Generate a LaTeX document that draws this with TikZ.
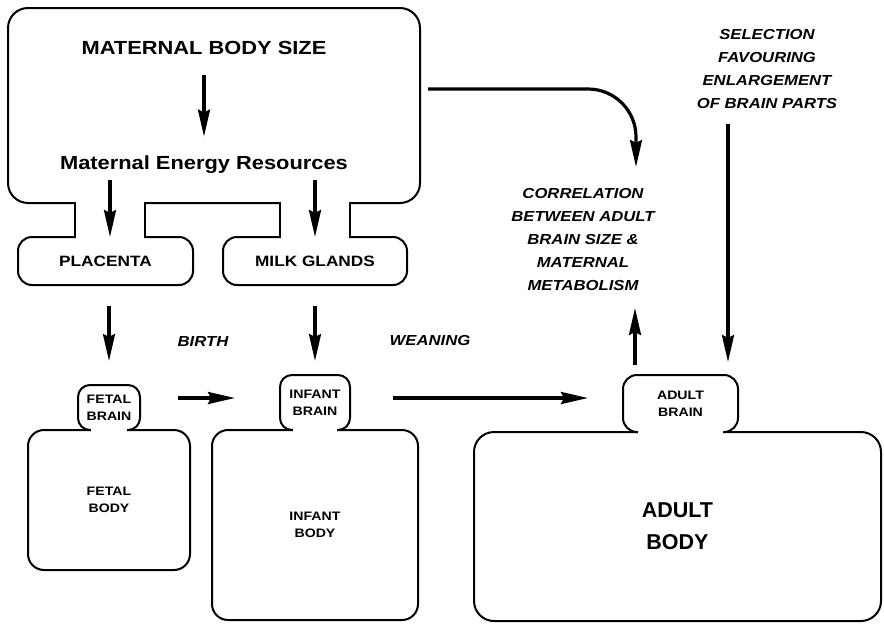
\documentclass[tikz,border=0pt]{standalone}
\usepackage{fontspec}
\setmainfont{Liberation Sans}
\newfontfamily\widesans[FakeStretch=1.15]{Liberation Sans}
\usepackage{tikz}
\usetikzlibrary{arrows.meta}

\begin{document}
\begin{tikzpicture}[x=1pt,y=-1pt,
    box/.style={draw,line width=2pt,rounded corners=14pt,inner sep=0pt,align=center,
        font=\widesans\bfseries\fontsize{12.3}{17}\selectfont},
    big/.style={font=\widesans\bfseries\fontsize{19}{23}\selectfont},
    lab/.style={align=center,font=\widesans\bfseries\itshape\fontsize{14.5}{23}\selectfont},
    arr/.style={line width=3.2pt,-{Stealth[length=27pt,width=12pt,inset=3pt]}}]
    \useasboundingbox (0,0) rectangle (884,624);

    % maternal body with its two outlets
    \node[box,rounded corners=20pt,minimum width=412pt,minimum height=195pt] (mbox) at (214,105.5) {};
    \node[box,font=\widesans\bfseries\fontsize{15}{18}\selectfont,minimum width=175pt,minimum height=48pt] (plac) at (105.5,261) {PLACENTA};
    \node[box,font=\widesans\bfseries\fontsize{15}{18}\selectfont,minimum width=184pt,minimum height=48pt] (milk) at (315,261) {MILK GLANDS};
    \fill[white] (76,199) rectangle (144,241);
    \fill[white] (281,199) rectangle (349,241);
    \draw[line width=2pt] (75,203) -- (75,237) (145,203) -- (145,237);
    \draw[line width=2pt] (280,203) -- (280,237) (350,203) -- (350,237);
    \node[big] (msize) at (204,48) {MATERNAL BODY SIZE};
    \node[big] (mres) at (204,165) {Maternal Energy Resources};

    % fetus, infant, adult
    \node[box,minimum width=162pt,minimum height=140pt,rounded corners=16pt] (fbody) at (109,500) {FETAL\\BODY};
    \node[box,minimum width=62pt,minimum height=45pt,rounded corners=12pt] (fbrain) at (109,407.5) {FETAL\\BRAIN};
    \fill[white] (91,427) rectangle (127,433);
    \node[box,minimum width=206pt,minimum height=190pt,rounded corners=16pt] (ibody) at (315,525) {INFANT\\BODY};
    \node[box,minimum width=70pt,minimum height=55pt,rounded corners=12pt] (ibrain) at (315,402.5) {INFANT\\BRAIN};
    \fill[white] (293,427) rectangle (337,433);
    \node[box,font=\bfseries\fontsize{21.5}{32}\selectfont,minimum width=407pt,minimum height=189pt,rounded corners=20pt] (abody) at (677.5,526.5) {ADULT\\BODY};
    \node[box,minimum width=115pt,minimum height=57pt,rounded corners=14pt] (abrain) at (680.5,403.5) {ADULT\\BRAIN};
    \fill[white] (638,429) rectangle (723,435);

    % italic labels
    \node[lab] (birth) at (203,342) {BIRTH};
    \node[lab] (wean) at (430,341) {WEANING};
    \node[lab] (corr) at (583,240) {CORRELATION\\BETWEEN ADULT\\BRAIN SIZE \&\\MATERNAL\\METABOLISM};
    \node[lab] (sel) at (767,69) {SELECTION\\FAVOURING\\ENLARGEMENT\\OF BRAIN PARTS};

    \coordinate (pin) at (110,237);
    \coordinate (min) at (315,237);
    \coordinate (birthL) at (178,398);
    \coordinate (birthR) at (235,398);
    \coordinate (weanL) at (393,398);
    \coordinate (weanR) at (588,398);
    \coordinate (cup) at (635,308);
    \coordinate (sdown) at (728,362);
    \coordinate (cstart) at (428,89);
    \coordinate (cend) at (636,167);

    \draw[arr,shorten <=17pt,shorten >=16pt] (msize) -- (mres);
    \draw[arr,shorten <=3pt] (mres.south -| pin) -- (pin);
    \draw[arr,shorten <=3pt] (mres.south -| min) -- (min);
    \draw[arr,shorten <=20pt,shorten >=23pt] (plac.south -| fbrain.north) -- (fbrain.north);
    \draw[arr,shorten <=20pt,shorten >=13pt] (milk.south -| ibrain.north) -- (ibrain.north);
    \draw[arr] (birthL) -- (birthR);
    \draw[arr] (weanL) -- (weanR);
    \draw[arr,shorten <=9pt] (abrain.north -| cup) -- (cup);
    \draw[arr,shorten <=12pt] (sel.south -| sdown) -- (sdown);
    \draw[arr,rounded corners=48pt] (cstart) -| (cend);
\end{tikzpicture}
\end{document}
